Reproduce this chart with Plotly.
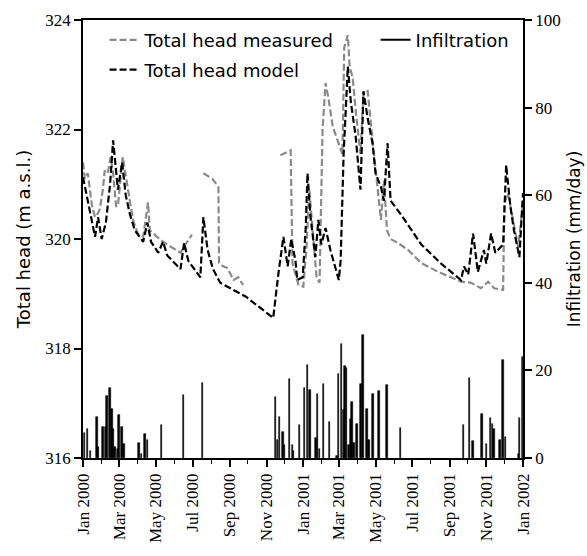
import plotly.graph_objects as go

# ---------------- data ----------------
meas_dates = [
    "2000-01-01", "2000-01-04", "2000-01-09", "2000-01-16", "2000-01-21", "2000-01-26", "2000-01-29",
    "2000-02-03", "2000-02-06", "2000-02-11", "2000-02-16", "2000-02-20", "2000-02-25", "2000-02-28",
    "2000-03-07", "2000-03-14", "2000-03-24", "2000-04-01", "2000-04-10", "2000-04-18", "2000-04-21",
    "2000-05-03", "2000-05-13", "2000-05-30", "2000-06-11", "2000-06-19", "2000-06-30",
    None,
    "2000-07-19", "2000-08-03", "2000-08-13", "2000-08-14", "2000-08-21", "2000-08-28", "2000-09-07",
    "2000-09-15", "2000-09-23",
    None,
    "2000-11-24", "2000-12-11", "2000-12-14", "2000-12-24", "2001-01-01", "2001-01-06", "2001-01-11",
    "2001-01-16", "2001-01-23", "2001-01-28", "2001-02-02", "2001-02-07", "2001-02-12", "2001-02-19",
    "2001-03-01", "2001-03-07", "2001-03-10", "2001-03-16", "2001-03-19", "2001-03-24", "2001-03-29",
    "2001-04-03", "2001-04-06", "2001-04-11", "2001-04-18", "2001-04-26", "2001-05-05", "2001-05-10",
    "2001-05-15", "2001-05-20", "2001-05-26", "2001-06-07", "2001-06-24", "2001-07-16", "2001-08-13",
    "2001-09-20", "2001-10-07", "2001-10-23", "2001-11-04", "2001-11-14", "2001-11-29", "2001-12-01",
    "2001-12-07", "2001-12-16", "2001-12-24", "2002-01-01",
]
meas_head = [
    321.40, 321.10, 321.20, 320.60, 320.40, 320.47, 320.55,
    320.90, 321.25, 321.20, 321.50, 321.20, 320.60, 320.60,
    321.50, 321.00, 320.35, 320.10, 320.04, 320.67, 320.16,
    320.04, 319.95, 319.83, 319.75, 319.90, 320.08,
    None,
    321.20, 321.10, 320.95, 319.56, 319.50, 319.47, 319.25,
    319.30, 319.16,
    None,
    321.53, 321.62, 319.56, 319.16, 319.13, 319.80, 320.90,
    320.20, 319.30, 319.20, 322.00, 322.85, 322.55, 322.05,
    321.75, 321.55, 323.50, 323.72, 323.15, 322.95, 322.35,
    321.90, 321.55, 322.67, 322.70, 321.80, 320.84, 320.35,
    321.07, 320.16, 320.00, 319.93, 319.80, 319.56, 319.40,
    319.22, 319.20, 319.10, 319.22, 319.10, 319.07, 320.65,
    320.84, 320.30, 319.85, 320.65,
]

model_dates = [
    "2000-01-01", "2000-01-08", "2000-01-13", "2000-01-21", "2000-01-26", "2000-02-01", "2000-02-08",
    "2000-02-15", "2000-02-20", "2000-02-28", "2000-03-06", "2000-03-12", "2000-03-19", "2000-03-27",
    "2000-04-10", "2000-04-17", "2000-04-23", "2000-05-05", "2000-05-13", "2000-05-20", "2000-06-11",
    "2000-06-17", "2000-06-24", "2000-07-14", "2000-07-19", "2000-07-26", "2000-08-04", "2000-08-16",
    "2000-09-27", "2000-11-12", "2000-11-21", "2000-11-29", "2000-12-06", "2000-12-12", "2000-12-19",
    "2000-12-22", "2000-12-31", "2001-01-05", "2001-01-08", "2001-01-13", "2001-01-21", "2001-01-26",
    "2001-01-31", "2001-02-07", "2001-02-15", "2001-03-01", "2001-03-04", "2001-03-09", "2001-03-16",
    "2001-03-21", "2001-03-29", "2001-04-06", "2001-04-11", "2001-04-18", "2001-04-26", "2001-05-01",
    "2001-05-10", "2001-05-15", "2001-05-21", "2001-05-26", "2001-06-12", "2001-07-16", "2001-08-18",
    "2001-09-20", "2001-09-25", "2001-10-02", "2001-10-10", "2001-10-18", "2001-10-28", "2001-11-01",
    "2001-11-09", "2001-11-16", "2001-11-29", "2001-12-04", "2001-12-11", "2001-12-17", "2001-12-26",
    "2002-01-01",
]
model_head = [
    321.13, 320.75, 320.45, 320.04, 320.40, 320.00, 320.30,
    321.00, 321.80, 320.90, 321.40, 320.80, 320.45, 320.16,
    319.95, 320.30, 319.95, 319.75, 319.95, 319.70, 319.45,
    319.93, 319.60, 319.30, 320.40, 319.80, 319.45, 319.20,
    318.95, 318.56, 319.40, 320.04, 319.50, 320.00, 319.60,
    319.25, 319.30, 320.20, 321.20, 320.40, 319.67, 320.35,
    319.90, 320.20, 319.80, 319.25, 319.60, 321.55, 323.15,
    322.50, 321.87, 320.90, 322.70, 322.20, 321.75, 321.20,
    320.95, 320.70, 321.75, 320.70, 320.45, 319.90, 319.55,
    319.25, 319.50, 319.35, 320.10, 319.40, 319.80, 319.55,
    320.10, 319.75, 319.90, 321.35, 320.60, 320.16, 319.67,
    320.84,
]

infil_dates = [
    "2000-01-04", "2000-01-09", "2000-01-13", "2000-01-24", "2000-01-26", "2000-02-03", "2000-02-07",
    "2000-02-10", "2000-02-15", "2000-02-18", "2000-02-20", "2000-02-23", "2000-02-27", "2000-03-01",
    "2000-03-06", "2000-03-09", "2000-04-03", "2000-04-07", "2000-04-13", "2000-04-17", "2000-05-10",
    "2000-06-16", "2000-07-17", "2000-11-16", "2000-11-19", "2000-11-23", "2000-11-28", "2000-12-01",
    "2000-12-09", "2000-12-14", "2000-12-16", "2000-12-26", "2001-01-03", "2001-01-08", "2001-01-12",
    "2001-01-22", "2001-01-25", "2001-01-28", "2001-02-04", "2001-02-14", "2001-02-26", "2001-03-01",
    "2001-03-06", "2001-03-09", "2001-03-11", "2001-03-14", "2001-03-18", "2001-03-21", "2001-03-23",
    "2001-03-26", "2001-03-31", "2001-04-07", "2001-04-10", "2001-04-17", "2001-04-20", "2001-04-27",
    "2001-05-07", "2001-05-20", "2001-06-11", "2001-09-24", "2001-10-04", "2001-10-10", "2001-10-25",
    "2001-11-01", "2001-11-08", "2001-11-11", "2001-11-14", "2001-11-24", "2001-11-29", "2001-12-03",
    "2001-12-24", "2001-12-26", "2001-12-31",
]
infil_vals = [
    5.7, 6.6, 1.6, 9.4, 2.5, 7.1, 7.1,
    14.2, 16.0, 11.2, 6.6, 2.5, 2.0, 9.8,
    7.1, 3.3, 3.4, 1.0, 5.5, 4.0, 7.6,
    14.4, 17.2, 14.0, 4.0, 9.4, 6.0, 3.0,
    18.0, 3.0, 1.5, 7.6, 16.0, 21.3, 15.5,
    4.6, 14.6, 2.0, 16.9, 8.2, 0.5, 19.2,
    26.1, 11.0, 21.0, 20.6, 3.0, 8.9, 12.8,
    3.5, 7.7, 16.9, 28.0, 11.2, 4.0, 14.6,
    15.3, 16.7, 6.9, 7.6, 18.3, 3.9, 10.0,
    3.2, 9.2, 7.7, 6.6, 4.1, 22.4, 4.8,
    1.0, 9.2, 23.0,
]

left_ticks = [316, 318, 320, 322, 324]
right_ticks = [0, 20, 40, 60, 80, 100]

# ---------------- figure ----------------
SERIF = "Liberation Serif, Times New Roman, serif"
SANS = "DejaVu Sans, sans-serif"
DAY_MS = 86400000

fig = go.Figure()

fig.add_trace(go.Bar(
    x=infil_dates, y=infil_vals, yaxis="y2", width=2.2 * DAY_MS,
    marker=dict(color="black", line=dict(color="black", width=0.6)),
    showlegend=False,
))

fig.add_trace(go.Scatter(
    x=meas_dates, y=meas_head, mode="lines", name="Total head measured",
    line=dict(color="#8a8a8a", width=2.2, dash="7px,3px"), connectgaps=False,
    legend="legend",
))
fig.add_trace(go.Scatter(
    x=model_dates, y=model_head, mode="lines", name="Total head model",
    line=dict(color="black", width=2.2, dash="7px,3px"),
    legend="legend2",
))
fig.add_trace(go.Scatter(
    x=[None], y=[None], mode="lines", name="Infiltration", yaxis="y2",
    line=dict(color="black", width=2), legend="legend3",
))

legend_common = dict(bgcolor="rgba(0,0,0,0)", font=dict(family=SANS, size=18, color="black"),
                     xanchor="left", yanchor="middle", itemwidth=30)

tickfont = dict(family=SERIF, size=17, color="black")

fig.update_layout(
    width=587, height=556,
    margin=dict(l=83, r=64, t=20, b=98),
    plot_bgcolor="white", paper_bgcolor="white",
    bargap=0,
    xaxis=dict(
        type="date", range=["2000-01-01", "2002-01-01"], automargin=False,
        dtick="M2", tick0="2000-01-01", tickformat="%b %Y", tickangle=-90,
        ticks="outside", ticklen=7, tickwidth=1.5, tickcolor="black",
        minor=dict(dtick="M1", ticks="outside", ticklen=4, tickwidth=1.2, tickcolor="black"),
        showline=True, linecolor="black", linewidth=1.6, mirror=True,
        showgrid=False, zeroline=False,
        tickfont=tickfont,
    ),
    yaxis=dict(
        range=[316, 324], tickvals=left_ticks, ticktext=[str(t) for t in left_ticks],
        automargin=False,
        ticks="outside", ticklen=7, tickwidth=1.5, tickcolor="black",
        showline=True, linecolor="black", linewidth=1.6,
        showgrid=False, zeroline=False,
        tickfont=tickfont,
        title=dict(text="Total head (m a.s.l.)", standoff=10,
                   font=dict(family=SANS, size=18, color="black")),
    ),
    yaxis2=dict(
        range=[0, 100], tickvals=right_ticks, ticktext=[str(t) for t in right_ticks],
        overlaying="y", side="right", anchor="x", automargin=False,
        ticks="outside", ticklen=7, tickwidth=1.5, tickcolor="black",
        showline=True, linecolor="black", linewidth=1.6,
        showgrid=False, zeroline=False,
        tickfont=tickfont,
        title=dict(text="Infiltration (mm/day)", standoff=8,
                   font=dict(family=SANS, size=17, color="black")),
    ),
    legend=dict(x=0.049, y=0.954, **legend_common),
    legend2=dict(x=0.049, y=0.886, **legend_common),
    legend3=dict(x=0.665, y=0.954, **legend_common),
)

fig.write_html("out.html")
